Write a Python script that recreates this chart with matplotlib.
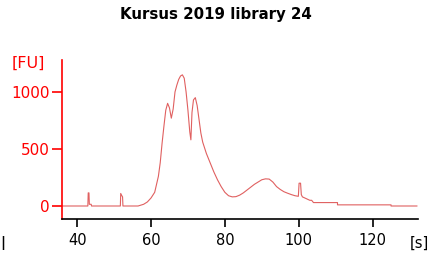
import matplotlib
matplotlib.use("Agg")
from matplotlib import pyplot as plt

# electropherogram trace (time [s], fluorescence [FU])
time_s = [36, 42.9, 43.0, 43.2, 43.3, 43.8, 43.9, 51.7, 51.8, 52.1, 52.3, 52.4,
          56.5, 57.5, 58, 59, 60, 61, 62, 62.5, 63, 63.5, 64, 64.5, 65, 65.5, 66,
          66.5, 67, 67.5, 68, 68.5, 69, 69.5, 70, 70.5, 70.8, 71.1, 71.5,
          72, 72.5, 73, 73.5, 74, 75, 76, 77, 78, 79, 80, 81, 82, 83, 84,
          85, 86, 87, 88, 89, 90, 91, 92, 93, 94, 95, 96, 97, 98, 99, 99.9,
          100.1, 100.5, 100.7, 101, 102, 103, 103.5, 104, 110.5, 110.5, 125, 125, 132]
fu = [0, 0, 115, 115, 15, 15, 0, 0, 110, 90, 80, 0,
      0, 10, 15, 35, 70, 120, 260, 380, 550, 700, 840, 900, 860, 770, 850,
      1000, 1060, 1110, 1140, 1150, 1120, 1000, 840, 650, 580, 820, 930,
      950, 880, 760, 640, 560, 460, 380, 300, 230, 170, 120, 90, 80, 82, 95,
      115, 140, 165, 190, 210, 230, 238, 236, 210, 170, 145, 125, 112, 100, 90, 85,
      200, 200, 100, 80, 65, 50, 50, 30, 30, 10, 10, 0, 0]

x_ticks = [40, 60, 80, 100, 120]
y_ticks = [0, 500, 1000]
title = "Kursus 2019 library 24"

red = "#ff0000"

fig = plt.figure(figsize=(4.32, 2.58), dpi=100)
ax = fig.add_axes([62 / 432, 1 - 219 / 258, (418 - 62) / 432, (219 - 60) / 258])

ax.plot(time_s, fu, color="#e06060", linewidth=0.8)

ax.set_xlim(35.9, 132.3)
ax.set_ylim(-114, 1280)
ax.set_xticks(x_ticks)
ax.set_yticks(y_ticks)

ax.spines["top"].set_visible(False)
ax.spines["right"].set_visible(False)
ax.spines["left"].set_color(red)
ax.spines["left"].set_linewidth(1.2)
ax.spines["bottom"].set_color("black")
ax.spines["bottom"].set_linewidth(1.2)

ax.tick_params(axis="y", colors=red, labelsize=11, length=7, width=1.2, pad=2)
ax.tick_params(axis="x", colors="black", labelsize=10.5, length=6, width=1.2, pad=4)

fig.text(0.5, 1 - 15 / 258, title, ha="center", va="center",
         fontsize=10.8, fontweight="bold")
fig.text(12 / 432, 1 - 63 / 258, "[FU]", ha="left", va="center",
         fontsize=11.5, color=red)
fig.text(410 / 432, 1 - 243 / 258, "[s]", ha="left", va="center",
         fontsize=10.5, color="black")
fig.text(0 / 432, 1 - 243 / 258, "|", ha="left", va="center",
         fontsize=10, fontweight="bold", color="black")

fig.savefig("out.png", dpi=100)
